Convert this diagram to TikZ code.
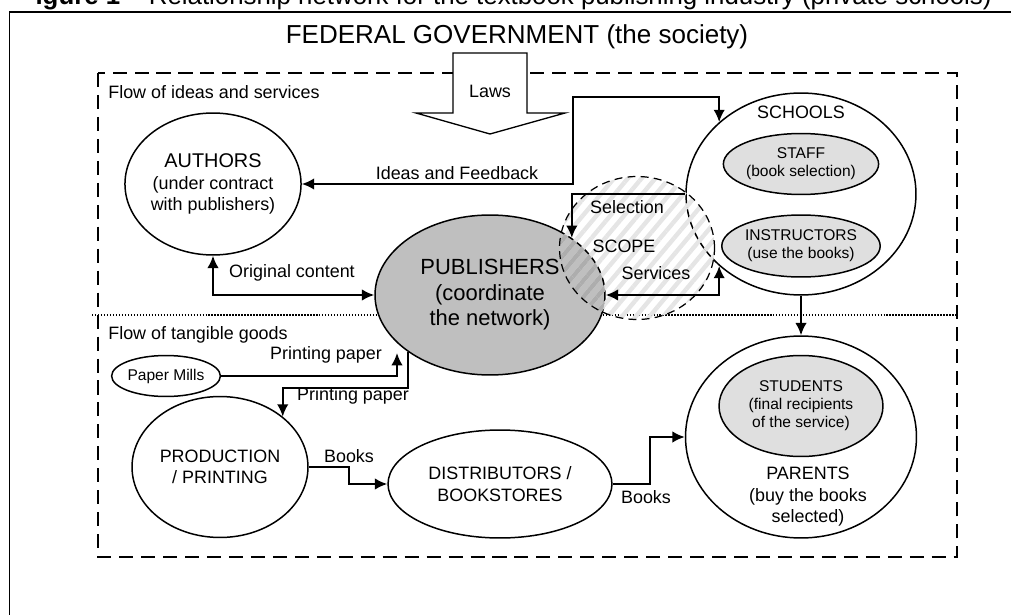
\documentclass[tikz,border=0pt]{standalone}
\usepackage{fontspec}
\setmainfont{Liberation Sans}
\usetikzlibrary{shapes.geometric,arrows.meta,patterns.meta}

\begin{document}
\begin{tikzpicture}[x=0.02cm,y=-0.02cm]
    % Setup the styles for the actors and the flows
    \tikzset{
        actor/.style={
            ellipse,
            draw,
            line width=0.85pt,
            inner sep=0pt,
            align=center,
            font=\fontsize{10.2}{12.2}\selectfont},
        inner actor/.style={
            actor,
            fill=gray!25,
            font=\fontsize{8.85}{10.2}\selectfont},
        flow/.style={
            line width=1.1pt,
            >={Latex[length=7pt,width=6.5pt]}},
        flow label/.style={
            inner sep=0pt,
            align=center,
            font=\fontsize{10.2}{12.2}\selectfont},
        stripes/.style={
            pattern={Lines[angle=50,distance=6pt,line width=2.5pt]}}}
    \useasboundingbox (0,0) rectangle (1011,615);
    \clip (0,0) rectangle (1011,615);

    % Caption, frame and title
    \node[anchor=base east, inner sep=0pt, font=\fontsize{14.7}{16}\selectfont]
        (caption) at (992,5)
        {\textbf{igure 1} -- Relationship network for the textbook publishing industry (private schools)};
    \draw[line width=1.1pt] (9.5,640) |- (1030,12);
    \node[inner sep=0pt, font=\fontsize{14.8}{16}\selectfont] (federal) at (517,37)
        {FEDERAL GOVERNMENT (the society)};

    % The two flow regions
    \draw[line width=1.1pt, dash pattern=on 8pt off 4.5pt] (98,73) rectangle (957,557);
    \draw[line width=0.9pt, dash pattern=on 0.85pt off 0.85pt] (92,315) -- (957,315);
    \node[flow label, anchor=west] (ideasflow) at (108,92) {Flow of ideas and services};
    \node[flow label, anchor=west] (goodsflow) at (108,335) {Flow of tangible goods};

    % Laws arrow
    \draw[line width=0.75pt, fill=white]
        (453,53) -- (527,53) -- (527,113) -- (565,113) -- (490,134)
        -- (416,113) -- (453,113) -- cycle;
    \node[flow label] (laws) at (490,91) {Laws};

    % Draw the actors
    \node[actor, minimum width=3.28cm, minimum height=2.84cm] at (213,184) (authors)
        {{\fontsize{11.3}{12.5}\selectfont AUTHORS}\\(under contract\\with publishers)};
    \node[actor, fill=gray!50, minimum width=4.6cm, minimum height=3.2cm,
          font=\fontsize{12.5}{14.5}\selectfont] at (490,295) (publishers)
        {PUBLISHERS\\(coordinate\\the network)};
    \node[actor, minimum width=4.6cm, minimum height=4.04cm] at (801,194) (schools) {};
    \node[flow label] at (801,112) (schoolslabel) {SCHOOLS};
    \node[inner actor, minimum width=3cm, minimum height=1.22cm] at (801,164) (staff)
        {STAFF\\(book selection)};
    \node[inner actor, minimum width=3cm, minimum height=1.24cm] at (801,246) (instructors)
        {INSTRUCTORS\\(use the books)};
    \node[actor, minimum width=4.62cm, minimum height=4.04cm] at (801,437) (parents) {};
    \node[inner actor, minimum width=3.28cm, minimum height=2.02cm] at (801,406) (students)
        {STUDENTS\\(final recipients\\of the service)};
    \node[flow label] at (808,497) (parentslabel) {PARENTS\\(buy the books\\selected)};
    \node[actor, minimum width=1.9cm, minimum height=0.82cm,
          font=\fontsize{8.85}{10}\selectfont] at (166,376) (papermills) {Paper Mills};
    \node[actor, minimum width=3.52cm, minimum height=2.82cm] at (220,467) (production)
        {PRODUCTION\\/ PRINTING};
    \node[actor, minimum width=4.48cm, minimum height=2.16cm] at (500,484) (distributors)
        {DISTRIBUTORS /\\BOOKSTORES};

    % Scope of the services (stripes darker over the publishers)
    \fill[stripes, pattern color=gray!20] (637,248) ellipse [x radius=1.55cm, y radius=1.43cm];
    \begin{scope}
        \clip (490,295) ellipse [x radius=2.3cm, y radius=1.6cm];
        \fill[stripes, pattern color=black!32] (637,248) ellipse [x radius=1.55cm, y radius=1.43cm];
    \end{scope}
    \node[ellipse, draw, line width=0.7pt, dash pattern=on 4.5pt off 3pt,
          minimum width=3.1cm, minimum height=2.86cm] at (637,248) (scope) {};
    \node[flow label] at (627,207) (selection) {Selection};
    \node[flow label] at (624,246) (scopelabel) {SCOPE};
    \node[flow label] at (656,273) (services) {Services};

    % Connect the actors with arrows
    \draw[flow, <->] (authors.east) -- (573,184) -- (573,97) -| (schools.north west);
    \node[flow label] at (457,173) (feedback) {Ideas and Feedback};
    \draw[flow, <->] (authors.south) |- (publishers.west);
    \node[flow label] at (292,273) (original) {Original content};
    \draw[flow, ->] (schools.west) -| (publishers.north east);
    \draw[flow, <->] (schools.south west) |- (publishers.east);
    \draw[flow, ->] (schools.south) -- (parents.north);

    \coordinate (paperin) at (397,353);
    \draw[flow, ->] (papermills.east) -| (paperin);
    \node[flow label] at (326,355) (paperlabel) {Printing paper};
    \draw[flow, ->] (publishers.south west) -- ++(0,36) -| (production.north east);
    \node[flow label] at (353,396) (printlabel) {Printing paper};
    \draw[flow, ->] (production.east) -- ++(40,0) |- (distributors.west);
    \node[flow label] at (349,456) (bookslabel) {Books};
    \draw[flow, ->] (distributors.east) -- ++(37,0) |- (parents.west);
    \node[flow label] at (646,497) (shoplabel) {Books};
\end{tikzpicture}
\end{document}
